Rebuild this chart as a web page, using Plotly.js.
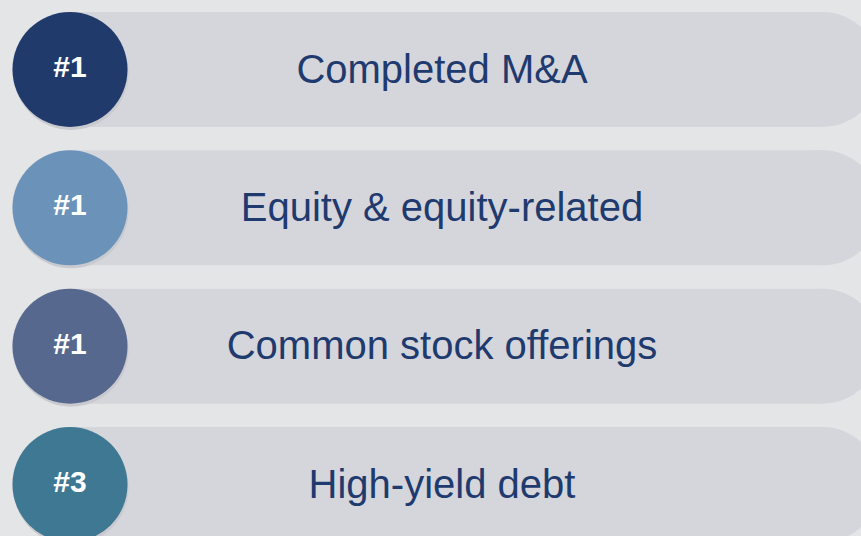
<!DOCTYPE html>
<html>
<head>
<meta charset="utf-8">
<script src="https://cdn.plot.ly/plotly-3.0.1.min.js"></script>
<style>html,body{margin:0;padding:0;background:#e4e5e7;}#chart{width:861px;height:536px;}</style>
</head>
<body>
<div id="chart"></div>
<script>
// Data
const categories = ["Completed M&A", "Equity & equity-related", "Common stock offerings", "High-yield debt"];
const ranks = [1, 1, 1, 3];
const rankLabels = ranks.map(r => "#" + r);
const circleColors = ["#1f3a6b", "#6b93ba", "#57688f", "#3e7892"];

// Layout constants (pixels / styling)
const W = 861, H = 536;
const firstRowPx = 69.5, lastRowPx = 484.5;
const n = categories.length;
const pxPerRow = (lastRowPx - firstRowPx) / (n - 1);
const yMin = -firstRowPx / pxPerRow;
const yMax = yMin + H / pxPerRow;
const R = 57.5;
const circleX = 70, pillLeft = 12, pillRight = 880, labelX = 442;
const labelShiftPx = 3;
const pillColor = "#d5d6db", shadowColor = "#c9cacf";

const idx = categories.map((_, i) => i);

const shapes = [];
idx.forEach(i => {
  shapes.push({type: "rect", layer: "below", xref: "x", yref: "y",
    x0: pillLeft + R, x1: pillRight - R, ysizemode: "pixel", yanchor: i, y0: -R, y1: R,
    fillcolor: pillColor, line: {width: 0}});
  shapes.push({type: "circle", layer: "below", xref: "x", yref: "y",
    xsizemode: "pixel", ysizemode: "pixel", xanchor: pillLeft + R, yanchor: i,
    x0: -R, x1: R, y0: -R, y1: R, fillcolor: pillColor, line: {width: 0}});
  shapes.push({type: "circle", layer: "below", xref: "x", yref: "y",
    xsizemode: "pixel", ysizemode: "pixel", xanchor: pillRight - R, yanchor: i,
    x0: -R, x1: R, y0: -R, y1: R, fillcolor: pillColor, line: {width: 0}});
  shapes.push({type: "circle", layer: "below", xref: "x", yref: "y",
    xsizemode: "pixel", ysizemode: "pixel", xanchor: circleX + 1, yanchor: i,
    x0: -R, x1: R, y0: -R - 3, y1: R - 3, fillcolor: shadowColor, line: {width: 0}});
});

const traces = [
  {
    type: "scatter", mode: "markers+text",
    x: idx.map(() => circleX), y: idx,
    text: rankLabels, textposition: "middle center",
    textfont: {family: "Liberation Sans, Arial, sans-serif", size: 30, color: "#ffffff", weight: "bold"},
    texttemplate: "<b>%{text}</b>",
    marker: {size: 2 * R, color: circleColors, line: {width: 0}},
    cliponaxis: false, hoverinfo: "skip", showlegend: false
  },
  {
    type: "scatter", mode: "text",
    x: idx.map(() => labelX), y: idx.map(i => i + labelShiftPx / pxPerRow),
    text: categories, textposition: "middle center",
    textfont: {family: "Liberation Sans, Arial, sans-serif", size: 40, color: "#1f3a6e"},
    hoverinfo: "skip", showlegend: false
  }
];

const layout = {
  width: W, height: H,
  margin: {l: 0, r: 0, t: 0, b: 0, pad: 0},
  paper_bgcolor: "#e4e5e7", plot_bgcolor: "rgba(0,0,0,0)",
  xaxis: {range: [0, W], visible: false, fixedrange: true},
  yaxis: {range: [yMax, yMin], visible: false, fixedrange: true},
  shapes: shapes,
  showlegend: false
};

Plotly.newPlot("chart", traces, layout, {displayModeBar: false, staticPlot: true});
</script>
</body>
</html>
